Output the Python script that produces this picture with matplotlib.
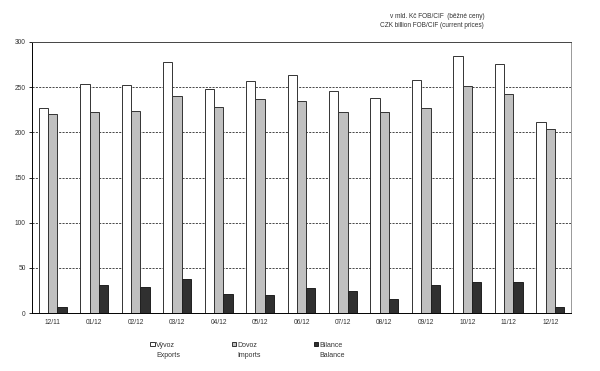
import numpy as np
import matplotlib
matplotlib.use('Agg')
import matplotlib.pyplot as plt

plt.rcParams['font.family'] = ['Liberation Sans', 'DejaVu Sans']

months = ['12/11', '01/12', '02/12', '03/12', '04/12', '05/12', '06/12',
          '07/12', '08/12', '09/12', '10/12', '11/12', '12/12']
exports = [227, 253, 252, 278, 248, 257, 263, 246, 238, 258, 285, 276, 211]
imports = [220, 222, 224, 240, 228, 237, 235, 222, 222, 227, 251, 242, 204]
balance = [7, 31, 29, 38, 21, 20, 28, 24, 16, 31, 34, 34, 7]

labels_cz = ['Vývoz', 'Dovoz', 'Bilance']
labels_en = ['Exports', 'Imports', 'Balance']
yticks = [0, 50, 100, 150, 200, 250, 300]

fig = plt.figure(figsize=(6.0, 3.71), dpi=100)
ax = fig.add_axes([0.0533, 0.1563, 0.8984, 0.7305])

x = np.arange(len(months))
w = 0.225
edge = '#333333'
ax.bar(x - w, exports, w, color='white', edgecolor=edge, linewidth=0.7,
       label=labels_cz[0], zorder=3)
ax.bar(x, imports, w, color='#c0c0c0', edgecolor=edge, linewidth=0.7,
       label=labels_cz[1], zorder=3)
ax.bar(x + w, balance, w, color='#303030', edgecolor='#202020', linewidth=0.7,
       label=labels_cz[2], zorder=3)

ax.set_xlim(-0.5, len(months) - 0.5)
ax.set_ylim(0, 300)
ax.set_yticks(yticks)
ax.set_yticklabels([str(v) for v in yticks], fontsize=4.8, color='#333333')
ax.set_xticks(x)
ax.set_xticklabels(months, fontsize=4.8, color='#333333')
ax.tick_params(axis='y', length=2.5, width=0.6, pad=2)
ax.tick_params(axis='x', length=0, pad=4)

# dashed horizontal guide lines behind the bars
for v in yticks[1:-1]:
    ax.axhline(v, color='#2a2a2a', linestyle=(0, (2.5, 1.5)), linewidth=0.6, zorder=1)

ax.spines['left'].set_color('black')
ax.spines['bottom'].set_color('black')
ax.spines['top'].set_color('#444444')
ax.spines['right'].set_color('#999999')
for s in ax.spines.values():
    s.set_linewidth(0.7)

fig.text(0.807, 0.955, 'v mld. Kč FOB/CIF  (běžné ceny)', ha='right', va='center',
         fontsize=4.7, color='#333333')
fig.text(0.807, 0.93, 'CZK billion FOB/CIF (current prices)', ha='right', va='center',
         fontsize=4.7, color='#333333')

fig.legend(loc='center left', bbox_to_anchor=(0.245, 0.070), ncol=3, frameon=False,
           borderpad=0, fontsize=5, handlelength=0.6, handleheight=0.6,
           handletextpad=0.2, columnspacing=8.15, labelcolor='#333333')

for xpos, txt in zip([0.26, 0.395, 0.533], labels_en):
    fig.text(xpos, 0.043, txt, ha='left', va='center', fontsize=5, color='#333333')

fig.savefig('out.png', dpi=100)
